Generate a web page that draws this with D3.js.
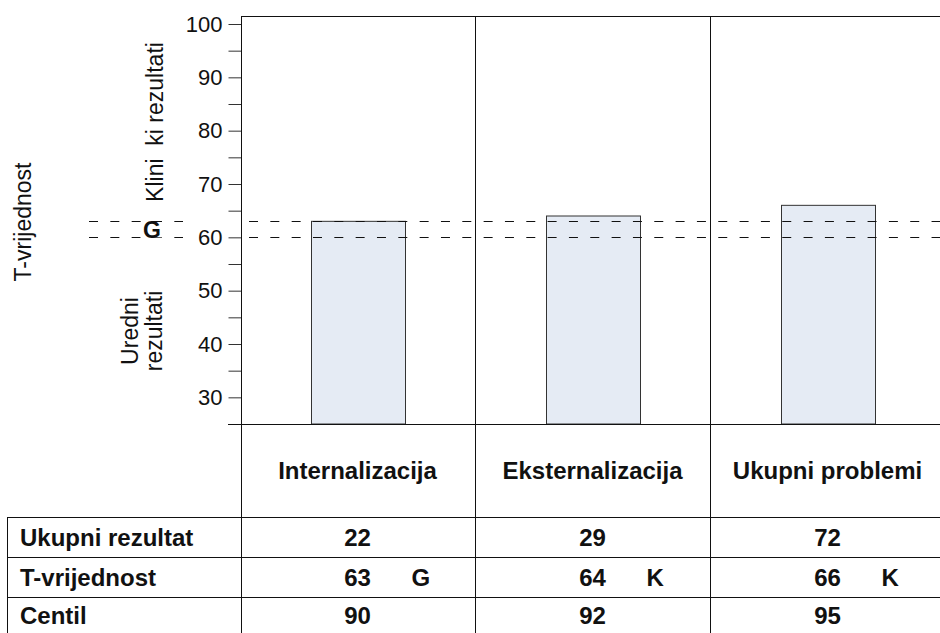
<!DOCTYPE html>
<html>
<head>
<meta charset="utf-8">
<script src="https://cdn.jsdelivr.net/npm/d3@7/dist/d3.min.js"></script>
<style>
  html, body { margin: 0; padding: 0; background: #fff; }
  svg { display: block; font-family: "Liberation Sans", Arial, sans-serif; }
  .pre { white-space: pre; }
</style>
</head>
<body>
<svg id="chart" width="940" height="633"></svg>
<script>
// ---- data ----
const categories = ["Internalizacija", "Eksternalizacija", "Ukupni problemi"];
const tValues = [63, 64, 66];
const totalScores = [22, 29, 72];
const centiles = [90, 92, 95];
const flags = ["G", "K", "K"];
const rowLabels = ["Ukupni rezultat", "T-vrijednost", "Centil"];
const thresholds = [60, 63];
const majorTicks = [30, 40, 50, 60, 70, 80, 90, 100];
const minorTicks = [35, 45, 55, 65, 75, 85, 95];

// ---- layout ----
const W = 940, H = 633;
const axisX = 241, frameTop = 16;
const plotTop = 24, plotBottom = 424;
const headerBottom = 517;
const rowH = [517, 557, 597, 637];
const tableLeft = 7;
const ink = "#111";

const svg = d3.select("#chart");

const y = d3.scaleLinear().domain([25, 100]).range([plotBottom, plotTop]);
const x = d3.scaleBand().domain(categories).range([axisX, 946]);
const bw = x.bandwidth() * 0.4;

// bars
svg.append("g").selectAll("rect")
  .data(categories)
  .join("rect")
  .attr("x", (d) => x(d) + (x.bandwidth() - bw) / 2)
  .attr("width", bw)
  .attr("y", (d, i) => y(tValues[i]))
  .attr("height", (d, i) => y(25) - y(tValues[i]))
  .attr("fill", "#e5ebf4")
  .attr("stroke", "#333")
  .attr("stroke-width", 1);

// dashed threshold lines
const dash = "9,12.33";
thresholds.forEach(t => {
  const yy = Math.round(y(t)) + 0.5;
  svg.append("line").attr("x1", 89).attr("x2", 183).attr("y1", yy).attr("y2", yy)
    .attr("stroke", ink).attr("stroke-dasharray", dash);
  svg.append("line").attr("x1", 249).attr("x2", W).attr("y1", yy).attr("y2", yy)
    .attr("stroke", ink).attr("stroke-dasharray", dash);
});

// G label between thresholds
const gy = (y(60) + y(63)) / 2;
svg.append("rect").attr("x", 140).attr("y", y(63) + 1).attr("width", 24).attr("height", y(60) - y(63) - 1)
  .attr("fill", "#fff");
svg.append("text").attr("x", 152).attr("y", gy).attr("dy", "0.36em")
  .attr("text-anchor", "middle").attr("font-weight", "bold").attr("font-size", 23)
  .attr("fill", ink).text("G");

// y axis
const axis = d3.axisLeft(y).tickValues(majorTicks).tickSize(13).tickPadding(6);
const ag = svg.append("g").attr("transform", `translate(${axisX + 0.5},0)`).call(axis);
ag.select(".domain").remove();
ag.selectAll(".tick line").attr("stroke", "#333");
ag.selectAll(".tick text").attr("font-size", 22).attr("fill", ink)
  .attr("font-family", "'Liberation Sans', Arial, sans-serif");
const minor = d3.axisLeft(y).tickValues(minorTicks).tickSize(13).tickFormat("");
const mg = svg.append("g").attr("transform", `translate(${axisX + 0.5},0)`).call(minor);
mg.select(".domain").remove();
mg.selectAll(".tick line").attr("stroke", "#333");

// frame lines
svg.append("line").attr("x1", axisX + 0.5).attr("x2", axisX + 0.5).attr("y1", frameTop).attr("y2", H)
  .attr("stroke", ink);
svg.append("line").attr("x1", axisX).attr("x2", W).attr("y1", frameTop + 0.5).attr("y2", frameTop + 0.5)
  .attr("stroke", ink);
categories.slice(1).forEach(c => {
  const xx = Math.round(x(c)) - 0.5;
  svg.append("line").attr("x1", xx).attr("x2", xx).attr("y1", frameTop).attr("y2", H).attr("stroke", ink);
});
svg.append("line").attr("x1", 228).attr("x2", W).attr("y1", plotBottom + 0.5).attr("y2", plotBottom + 0.5)
  .attr("stroke", ink);
[rowH[0], rowH[1], rowH[2]].forEach(r => {
  svg.append("line").attr("x1", tableLeft).attr("x2", W).attr("y1", r + 0.5).attr("y2", r + 0.5)
    .attr("stroke", ink);
});
svg.append("line").attr("x1", tableLeft + 0.5).attr("x2", tableLeft + 0.5).attr("y1", rowH[0]).attr("y2", H)
  .attr("stroke", ink);

// rotated left labels
function vtext(xb, yc, txt, size) {
  return svg.append("text")
    .attr("transform", `translate(${xb},${yc}) rotate(-90)`)
    .attr("text-anchor", "middle")
    .attr("font-size", size)
    .attr("fill", ink)
    .attr("class", "pre")
    .text(txt);
}
vtext(31, 222, "T-vrijednost", 23);
vtext(163, 122, "Klini  ki rezultati", 23);
vtext(138, 331, "Uredni", 23);
vtext(162, 331, "rezultati", 23);

// table header
const tsz = 24;
svg.append("g").selectAll("text").data(categories).join("text")
  .attr("x", d => x(d) + x.bandwidth() / 2 - 1)
  .attr("y", (plotBottom + headerBottom) / 2)
  .attr("dy", "0.36em")
  .attr("text-anchor", "middle").attr("font-weight", "bold").attr("font-size", tsz)
  .attr("fill", ink).text(d => d);

// row labels
const rowCenters = [537, 577, 615];
svg.append("g").selectAll("text").data(rowLabels).join("text")
  .attr("x", 20).attr("y", (d, i) => rowCenters[i]).attr("dy", "0.36em")
  .attr("font-weight", "bold").attr("font-size", tsz).attr("fill", ink).text(d => d);

// table values
const rows = [totalScores, tValues, centiles];
rows.forEach((vals, r) => {
  svg.append("g").selectAll("text").data(categories).join("text")
    .attr("x", d => x(d) + x.bandwidth() / 2 - 1)
    .attr("y", rowCenters[r]).attr("dy", "0.36em")
    .attr("text-anchor", "middle").attr("font-weight", "bold").attr("font-size", tsz)
    .attr("fill", ink).text((d, i) => vals[i]);
});
svg.append("g").selectAll("text").data(categories).join("text")
  .attr("x", d => x(d) + x.bandwidth() / 2 + 53)
  .attr("y", rowCenters[1]).attr("dy", "0.36em")
  .attr("font-weight", "bold").attr("font-size", tsz)
  .attr("fill", ink).text((d, i) => flags[i]);
</script>
</body>
</html>
